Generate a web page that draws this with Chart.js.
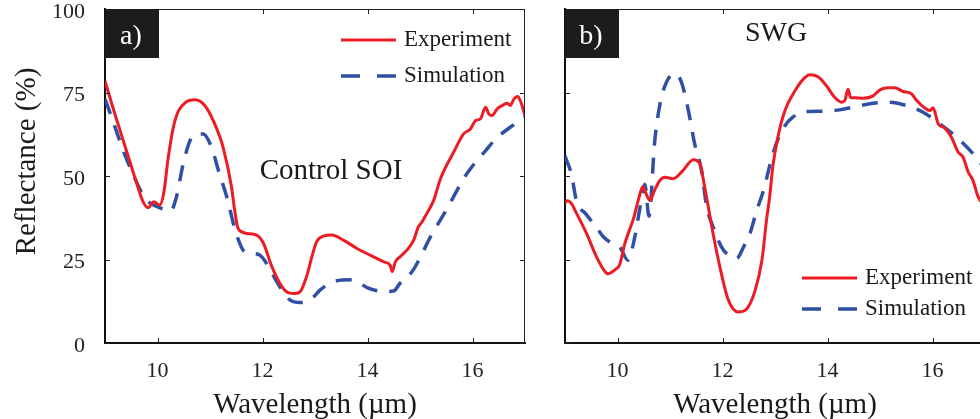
<!DOCTYPE html>
<html>
<head>
<meta charset="utf-8">
<script src="https://cdn.jsdelivr.net/npm/chart.js@4.4.0/dist/chart.umd.min.js"></script>
<style>
  html, body { margin: 0; padding: 0; width: 980px; height: 419px; overflow: hidden; background: #fff; }
  canvas { position: absolute; top: 0; }
</style>
</head>
<body>
<canvas id="chartA" width="540" height="419" style="left:0"></canvas>
<canvas id="chartB" width="460" height="419" style="left:540px"></canvas>
<script>
const xTicks = [10, 12, 14, 16];
const yTicks = [0, 25, 50, 75, 100];
const seriesNames = ['Experiment', 'Simulation'];

// a) Control SOI
const expA_wl = [9.0, 9.15, 9.3, 9.45, 9.6, 9.72, 9.82, 9.93, 10.04, 10.12, 10.2, 10.3, 10.4, 10.55, 10.71, 10.9, 11.09, 11.25, 11.41, 11.46, 11.53, 11.62, 11.7, 11.89, 12.02, 12.18, 12.37, 12.5, 12.62, 12.72, 12.84, 12.94, 13.03, 13.16, 13.32, 13.54, 13.8, 14.05, 14.31, 14.43, 14.47, 14.53, 14.62, 14.75, 14.88, 14.97, 15.04, 15.13, 15.26, 15.39, 15.64, 15.83, 15.96, 16.06, 16.15, 16.25, 16.31, 16.37, 16.47, 16.6, 16.66, 16.72, 16.79, 16.86, 16.91, 17.0];
const expA_r  = [78.5, 70.5, 63, 55.5, 48, 42.5, 40.5, 42.3, 41.3, 45, 55, 64.5, 69.5, 72.2, 72.8, 71.1, 65.6, 58.6, 46.7, 40.8, 34.5, 33.2, 32.8, 32.3, 29.8, 22.8, 16.9, 15, 14.8, 15.4, 19.9, 25.8, 30.3, 32, 32.3, 30.8, 28.3, 26.3, 24.3, 23.3, 21.4, 24.3, 25.8, 27.8, 30.8, 34.8, 36.3, 38.8, 42.7, 49.2, 57.1, 62.6, 64.1, 66.6, 67.1, 70.6, 68.6, 68.1, 70.1, 71.4, 71.8, 71.1, 73.1, 73.8, 72.6, 68.1];
const simA_wl = [9.0, 9.15, 9.28, 9.4, 9.53, 9.7, 9.85, 10.0, 10.12, 10.25, 10.36, 10.49, 10.62, 10.74, 10.87, 11.03, 11.16, 11.32, 11.48, 11.63, 11.72, 11.82, 11.95, 12.05, 12.18, 12.37, 12.52, 12.72, 12.81, 12.95, 13.1, 13.35, 13.7, 14.02, 14.34, 14.5, 14.62, 14.85, 15.0, 15.2, 15.52, 15.83, 16.05, 16.25, 16.44, 16.72, 17.0];
const simA_r  = [73.1, 66.5, 60.6, 55.5, 50.7, 45, 42, 40.8, 40, 39.5, 43.7, 53.7, 60.6, 62.6, 62.6, 58.6, 51.7, 43.7, 33.8, 27.8, 27, 26.8, 26.3, 24.5, 20.9, 15.9, 12.9, 12.1, 12.3, 13.5, 15.9, 18.4, 18.9, 16.4, 15.4, 15.6, 17.9, 21.4, 25.5, 31.8, 40.3, 49.2, 54, 57.6, 61.1, 64.6, 67.6];

// b) SWG
const expB_wl = [9.0, 9.05, 9.12, 9.22, 9.41, 9.6, 9.76, 9.82, 9.95, 10.04, 10.14, 10.22, 10.3, 10.4, 10.48, 10.55, 10.62, 10.7, 10.8, 10.9, 11.06, 11.25, 11.44, 11.57, 11.66, 11.75, 11.82, 11.95, 12.11, 12.3, 12.46, 12.62, 12.75, 12.84, 12.9, 12.96, 13.06, 13.19, 13.38, 13.54, 13.66, 13.82, 13.98, 14.14, 14.27, 14.33, 14.39, 14.44, 14.52, 14.68, 14.87, 15.0, 15.15, 15.28, 15.44, 15.6, 15.7, 15.85, 15.95, 16.01, 16.11, 16.23, 16.36, 16.49, 16.58, 16.68, 16.77, 16.87, 17.0];
const expB_r  = [42, 42.6, 41.8, 38.8, 32.8, 25.8, 21.4, 20.7, 21.9, 23.4, 29.8, 33.5, 37, 43, 46.8, 44.5, 42.7, 45.5, 48.5, 49.6, 49.2, 51.7, 54.9, 53.7, 46.7, 39, 32.8, 22.8, 12.9, 9.3, 10.2, 15.7, 24.7, 37, 44, 53, 62, 69.6, 75.5, 79, 80.3, 79.7, 77, 73.5, 72.1, 72.6, 76, 73.5, 73.4, 73.3, 74, 75.8, 76.4, 76.4, 75.3, 74.6, 72.6, 70.4, 69.6, 70.4, 65.6, 64.4, 61.6, 57.1, 55.7, 51.2, 48.7, 43.7, 41];
const simB_wl = [9.0, 9.03, 9.12, 9.22, 9.4, 9.6, 9.73, 9.9, 10.04, 10.2, 10.33, 10.42, 10.52, 10.6, 10.71, 10.81, 10.93, 11.09, 11.22, 11.35, 11.47, 11.6, 11.7, 11.82, 11.98, 12.12, 12.27, 12.4, 12.52, 12.65, 12.78, 12.96, 13.15, 13.34, 13.6, 13.92, 14.23, 14.55, 14.87, 15.19, 15.5, 15.82, 16.14, 16.46, 16.77, 17.0];
const simB_r  = [56, 54.7, 50.7, 42.5, 38.6, 34.6, 31.8, 29.8, 28.8, 24.8, 31.8, 39.8, 47.5, 38, 60.6, 71.6, 78, 80.7, 78, 69.6, 59.6, 51.7, 40.7, 34.8, 28.8, 26.2, 25.3, 28.7, 32.6, 39.6, 45.6, 56.7, 64.1, 67.6, 69.3, 69.4, 69.8, 70.8, 71.8, 72.1, 71.1, 69.1, 65.6, 61.6, 56.7, 52];

const RED = '#ec1c24';
const BLUE = '#2f50a4';
const SERIF = 'Liberation Serif';

const toXY = (xs, ys) => xs.map((x, i) => ({ x: x, y: ys[i] }));

function makeDatasets(expX, expY, simX, simY) {
    return [
        { label: seriesNames[0], data: toXY(expX, expY), borderColor: RED, borderWidth: 3,
          pointRadius: 0, cubicInterpolationMode: 'monotone', fill: false },
        { label: seriesNames[1], data: toXY(simX, simY), borderColor: BLUE, borderWidth: 3.5,
          borderDash: [16, 12], pointRadius: 0, cubicInterpolationMode: 'monotone', fill: false }
    ];
}

// frame, inward ticks, panel tag, note and legend
const panelDecor = {
    id: 'panelDecor',
    afterDraw(chart, args, o) {
        const ctx = chart.ctx;
        const a = chart.chartArea;
        const xs = chart.scales.x, ys = chart.scales.y;
        ctx.save();
        ctx.strokeStyle = '#222';
        ctx.lineWidth = 1;
        ctx.beginPath();
        ctx.moveTo(a.left, a.top + 0.5); ctx.lineTo(a.right, a.top + 0.5);
        ctx.moveTo(a.right - 0.5, a.top); ctx.lineTo(a.right - 0.5, a.bottom);
        xTicks.forEach(v => {
            const p = Math.round(xs.getPixelForValue(v)) + 0.5;
            ctx.moveTo(p, a.bottom); ctx.lineTo(p, a.bottom - 5);
            ctx.moveTo(p, a.top); ctx.lineTo(p, a.top + 5);
        });
        yTicks.forEach(v => {
            const p = Math.round(ys.getPixelForValue(v)) + 0.5;
            ctx.moveTo(a.left, p); ctx.lineTo(a.left + 5, p);
            ctx.moveTo(a.right, p); ctx.lineTo(a.right - 5, p);
        });
        ctx.stroke();

        // panel tag
        ctx.fillStyle = '#1c1c1c';
        ctx.fillRect(a.left, a.top, 54, 49);
        ctx.fillStyle = '#fff';
        ctx.font = '28px "' + SERIF + '"';
        ctx.textAlign = 'center';
        ctx.textBaseline = 'middle';
        ctx.fillText(o.tag, a.left + 26, a.top + 28);

        // note
        ctx.fillStyle = '#1a1a1a';
        ctx.font = o.note.size + 'px "' + SERIF + '"';
        ctx.fillText(o.note.text, o.note.x, o.note.y);

        // legend
        ctx.font = '23px "' + SERIF + '"';
        ctx.textAlign = 'left';
        chart.data.datasets.forEach((ds, i) => {
            const y = o.legend.y[i];
            ctx.strokeStyle = ds.borderColor;
            ctx.lineWidth = ds.borderWidth;
            ctx.setLineDash(ds.borderDash ? [19, 17] : []);
            ctx.beginPath();
            ctx.moveTo(o.legend.x, y); ctx.lineTo(o.legend.x + 55, y);
            ctx.stroke();
            ctx.setLineDash([]);
            ctx.fillText(ds.label, o.legend.x + 63, y);
        });
        ctx.restore();
    }
};

function makeScales(yWidth, showY) {
    return {
        x: {
            type: 'linear', min: 9, max: 17,
            afterBuildTicks: s => { s.ticks = xTicks.map(v => ({ value: v })); },
            afterFit: s => { s.height = 76; s.paddingLeft = 0; s.paddingRight = 0; },
            grid: { display: false },
            border: { color: '#111', width: 2 },
            ticks: { padding: 7, color: '#222', maxRotation: 0, font: { family: SERIF, size: 22 } },
            title: { display: true, text: 'Wavelength (µm)', color: '#1a1a1a', padding: 0,
                     font: { family: SERIF, size: 29, lineHeight: 0.93 } }
        },
        y: {
            type: 'linear', min: 0, max: 100,
            afterBuildTicks: s => { s.ticks = yTicks.map(v => ({ value: v })); },
            afterFit: s => { s.width = yWidth; s.paddingTop = 0; s.paddingBottom = 0; },
            grid: { display: false },
            border: { color: '#111', width: 2 },
            ticks: { display: showY, padding: 12, labelOffset: 3, color: '#222', font: { family: SERIF, size: 22 } },
            title: { display: showY, text: '    Reflectance (%)', color: '#1a1a1a', padding: { top: 10, bottom: 0 },
                     font: { family: SERIF, size: 29, lineHeight: 1.2 } }
        }
    };
}

new Chart(document.getElementById('chartA'), {
    type: 'line',
    data: { datasets: makeDatasets(expA_wl, expA_r, simA_wl, simA_r) },
    options: {
        responsive: false, animation: false,
        layout: { padding: { left: 0, right: 15, top: 9, bottom: 0 } },
        scales: makeScales(105, true),
        plugins: {
            legend: { display: false }, tooltip: { enabled: false },
            panelDecor: { tag: 'a)', note: { text: 'Control SOI', size: 29, x: 331, y: 171 },
                          legend: { x: 341, y: [40, 76] } }
        }
    },
    plugins: [panelDecor]
});

new Chart(document.getElementById('chartB'), {
    type: 'line',
    data: { datasets: makeDatasets(expB_wl, expB_r, simB_wl, simB_r) },
    options: {
        responsive: false, animation: false,
        layout: { padding: { left: 0, right: 15, top: 9, bottom: 0 } },
        scales: makeScales(25, false),
        plugins: {
            legend: { display: false }, tooltip: { enabled: false },
            panelDecor: { tag: 'b)', note: { text: 'SWG', size: 28, x: 236, y: 34 },
                          legend: { x: 262, y: [278, 309] } }
        }
    },
    plugins: [panelDecor]
});
</script>
</body>
</html>
